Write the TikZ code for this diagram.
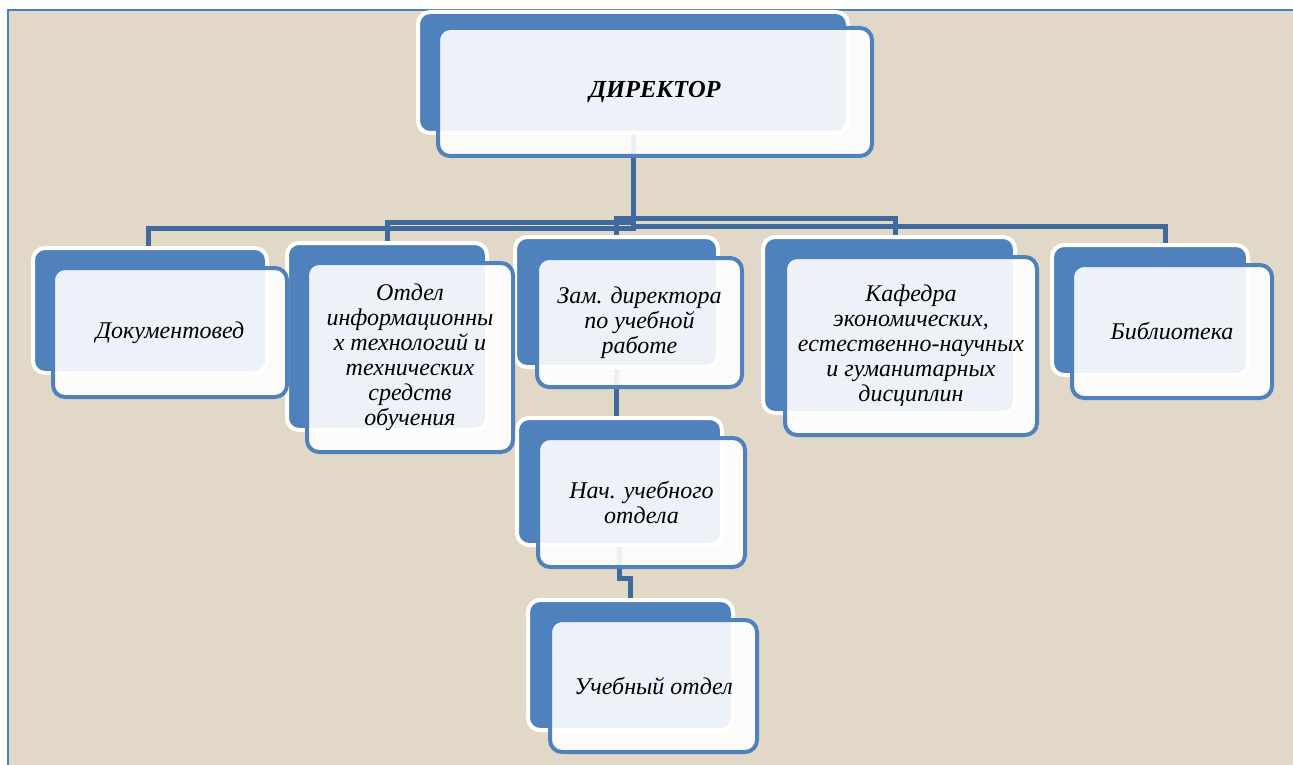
\documentclass[tikz,border=0pt]{standalone}
\usepackage{fontspec}
\setmainfont{Liberation Serif}
\usetikzlibrary{calc}
\definecolor{boxblue}{RGB}{79,129,189}
\definecolor{linkblue}{RGB}{64,105,158}
\definecolor{canvas}{RGB}{226,216,199}
\definecolor{frameblue}{RGB}{74,126,196}
\pgfdeclarelayer{canvaslayer}
\pgfdeclarelayer{links}
\pgfsetlayers{canvaslayer,links,main}
\tikzset{
  backbox/.style={draw=white, line width=4pt, fill=boxblue, rounded corners=12pt, inner sep=0pt},
  frontbox/.style={draw=boxblue, line width=4pt, fill=white, fill opacity=0.9, text opacity=1,
    rounded corners=12pt, inner sep=0pt, align=center, font=\fontsize{24}{25}\selectfont\itshape},
  link/.style={draw=linkblue, line width=5pt},
}

\begin{document}
\begin{tikzpicture}[x=1pt,y=-1pt]
      \useasboundingbox (0,0) rectangle (1293,765);
      %фон
        \begin{pgfonlayer}{canvaslayer}
        \fill[canvas](8,10) rectangle (1293,765);
        \draw[frameblue,line width=2.5pt](8,765)--(8,10)--(1293,10);
        \end{pgfonlayer}

      %задние блоки
        \node[backbox,minimum width=430,minimum height=121](dirB) at (633,72.5){};
        \node[backbox,minimum width=234,minimum height=125](dokB) at (150,310.5){};
        \node[backbox,minimum width=200,minimum height=187](otdB) at (387,336.5){};
        \node[backbox,minimum width=203,minimum height=130](zamB) at (616.5,302){};
        \node[backbox,minimum width=205,minimum height=127](nachB) at (619.5,481.5){};
        \node[backbox,minimum width=205,minimum height=130](uchB) at (630.5,665){};
        \node[backbox,minimum width=252,minimum height=176](kafB) at (889,325){};
        \node[backbox,minimum width=196,minimum height=130](bibB) at (1150,310){};

      %передние блоки
        \node[frontbox,minimum width=434,minimum height=128,font=\fontsize{24.5}{25}\selectfont\bfseries\itshape](dir) at (655,92){ДИРЕКТОР};
        \node[frontbox,minimum width=234,minimum height=129](dok) at (170,332.5){Документовед};
        \node[frontbox,minimum width=206,minimum height=189](otd) at (410,357.5){Отдел\\информационны\\х технологий и\\технических\\средств\\обучения};
        \node[frontbox,minimum width=205,minimum height=129](zam) at (639.5,322.5){Зам. директора\\по учебной\\работе};
        \node[frontbox,minimum width=207,minimum height=129](nach) at (641.5,502.5){Нач. учебного\\отдела};
        \node[frontbox,minimum width=207,minimum height=132](uch) at (653.5,686){Учебный отдел};
        \node[frontbox,minimum width=252,minimum height=178](kaf) at (911,346){Кафедра\\экономических,\\естественно-научных\\и гуманитарных\\дисциплин};
        \node[frontbox,minimum width=200,minimum height=133](bib) at (1172,331.5){Библиотека};

      %связи
        \begin{pgfonlayer}{links}
        \draw[link](dirB.south) |- ($(dokB.north)+(-2,-18)$) -- ($(dokB.north)+(-2,0)$);
        \draw[link](dirB.south) |- ($(otdB.north)+(0,-19)$) -- (otdB.north);
        \draw[link](dirB.south) |- ($(zamB.north)+(0,-17)$) -- (zamB.north);
        \draw[link](dirB.south) |- ($(kafB.north)+(6,-17)$) -- ($(kafB.north)+(6,0)$);
        \draw[link](dirB.south) |- ($(bibB.north)+(15,-17)$) -- ($(bibB.north)+(15,0)$);
        \draw[link](zamB.south) -- (zamB.south |- nachB.north);
        \draw[link](nachB.south) |- ($(uchB.north)+(0,-20)$) -- (uchB.north);
        \end{pgfonlayer}
\end{tikzpicture}
\end{document}
